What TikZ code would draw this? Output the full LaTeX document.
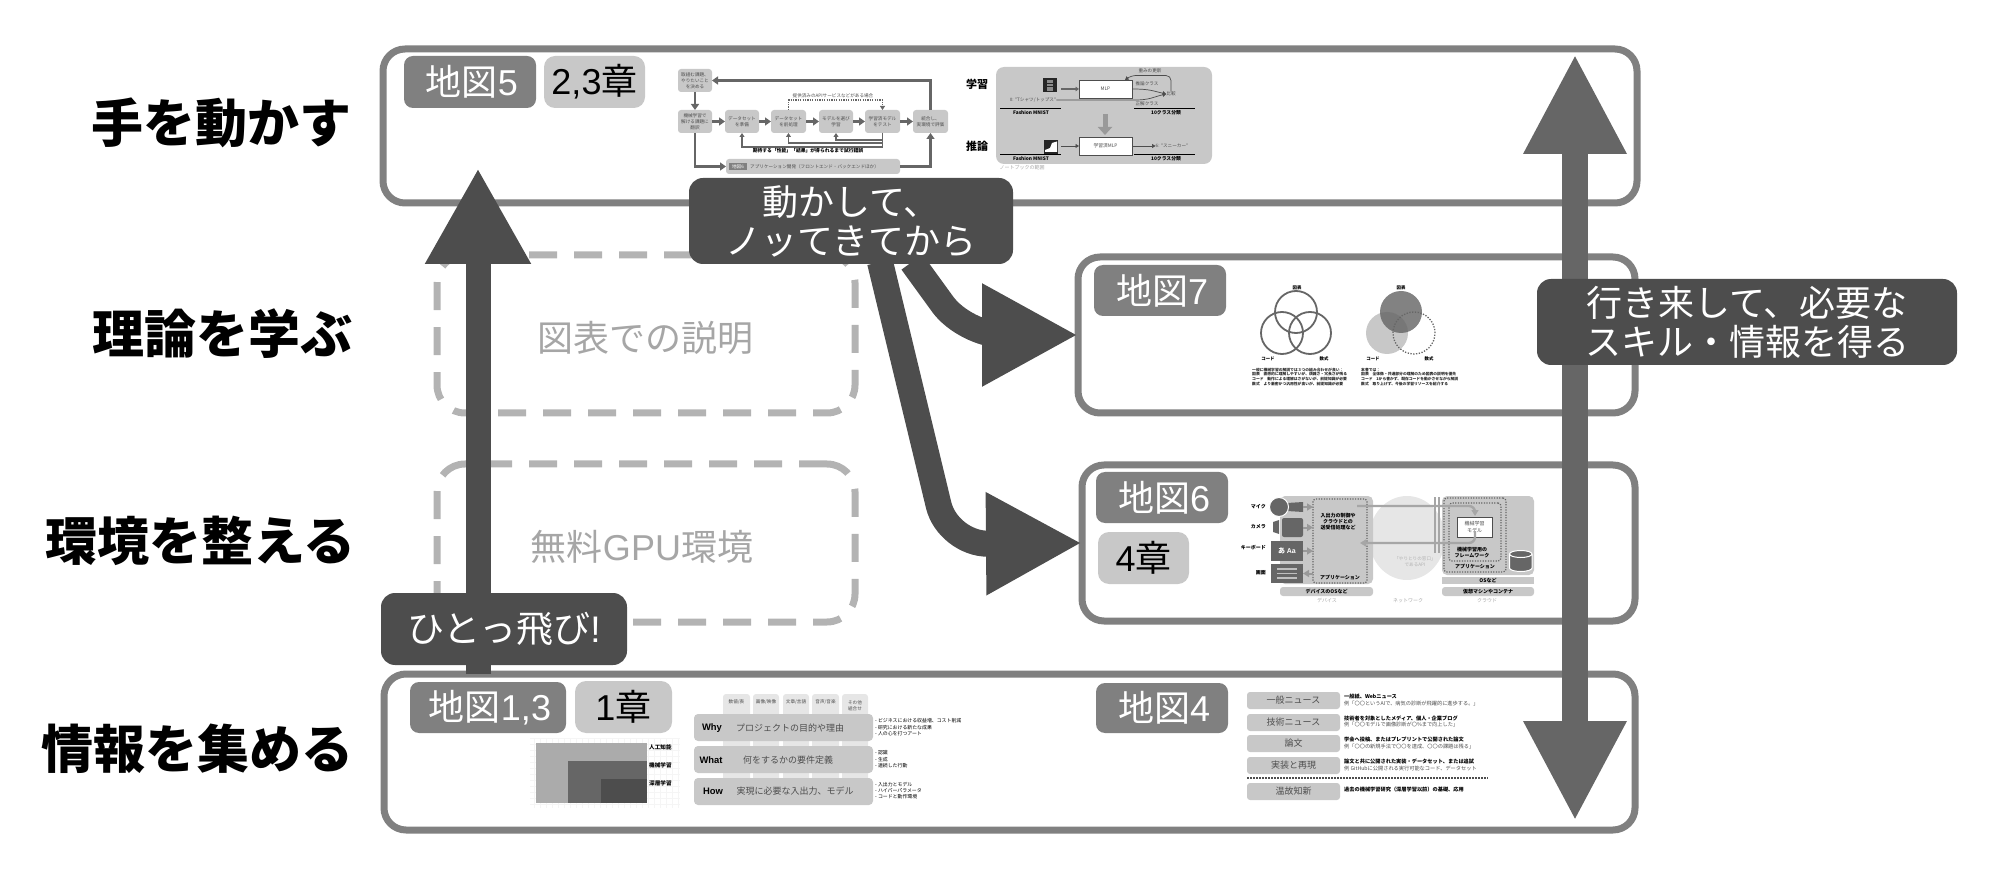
\documentclass[tikz,border=0pt]{standalone}
\usepackage{fontspec}
\setmainfont{Noto Sans CJK JP}
\newfontfamily\hv{Liberation Sans}
\usetikzlibrary{arrows.meta,calc,shapes.geometric}
\definecolor{cdark}{HTML}{4D4D4D}
\definecolor{cmid}{HTML}{808080}
\definecolor{clight}{HTML}{C8C8C8}
\definecolor{cdash}{HTML}{B3B3B3}
\definecolor{cghost}{HTML}{A6A6A6}
\definecolor{carrow}{HTML}{666666}
\definecolor{cpale}{HTML}{E6E6E6}
\newcommand\fs[2]{\fontsize{#1}{#2}\selectfont}
% [style]{name}{x1}{y1}{x2}{y2}{text}
\newcommand\bx[7][]{%
  \pgfmathsetmacro\cxx{(#3+#5)/2}\pgfmathsetmacro\cyy{(#4+#6)/2}%
  \pgfmathsetmacro\wwd{#5-#3}\pgfmathsetmacro\hgt{#6-#4}%
  \node[inner sep=0pt,outer sep=0pt,minimum width=\wwd pt,minimum height=\hgt pt,align=center,#1] (#2) at (\cxx,\cyy) {#7};}
\tikzset{
  lane/.style={draw=cmid,line width=7pt,rounded corners=22pt},
  ghost/.style={draw=cdash,line width=7pt,rounded corners=28pt,dash pattern=on 28pt off 17pt},
  ghosttext/.style={text=cghost,font=\fs{36}{40},inner sep=0pt},
  mapchip/.style={fill=cmid,rounded corners=9pt,text=white,font=\fs{36}{40},execute at begin node=\hspace*{4pt}},
  chapchip/.style={fill=clight,rounded corners=11pt,text=black,font=\fs{36}{40}},
  callout/.style={fill=cdark,rounded corners=14pt,text=white,font=\fs{36}{39}},
  rowlabel/.style={anchor=east,font=\bfseries\fs{52}{56}},
  bigarrow/.style={draw=cdark,line width=26pt,-{Triangle[width=96pt,length=96pt]}},
  flowbox/.style={fill=clight,rounded corners=3pt,font=\fs{4.6}{6},text=cdark},
  flowarrow/.style={draw=carrow,line width=2.4pt,-{Triangle[width=8pt,length=6pt]}},
  thinarrow/.style={draw=carrow,line width=1.1pt,-{Triangle[width=5pt,length=4pt]}},
  tiny/.style={inner sep=0pt,font=\fs{4.6}{6},text=cdark},
  tinyb/.style={inner sep=0pt,font=\bfseries\fs{4.8}{6},text=black},
  lbl/.style={inner sep=0pt,font=\bfseries\fs{5}{6},text=black},
  pale/.style={inner sep=0pt,font=\fs{5}{6},text=black!35},
  dots/.style={draw=carrow,line width=1.2pt,dash pattern=on 1.2pt off 1.4pt,rounded corners=3pt},
  netline/.style={draw=black!35,line width=2.4pt},
  newsbox/.style={fill=clight,rounded corners=3pt,font=\fs{9}{10},text=cdark},
  newsa/.style={anchor=west,inner sep=0pt,font=\bfseries\fs{5.2}{6},text=black},
  newsb/.style={anchor=west,inner sep=0pt,font=\fs{5.2}{6},text=cdark},
  wwrow/.style={fill=clight,rounded corners=4pt},
  wwtab/.style={fill=cpale,rounded corners=3pt},
  wwmain/.style={inner sep=0pt,font=\fs{9}{10},text=cdark},
  wwhead/.style={inner sep=0pt,font=\hv\bfseries\fs{9.4}{10},text=black},
  note/.style={anchor=west,inner sep=0pt,font=\fs{4.9}{6},text=black},
}
\begin{document}
\begin{tikzpicture}[x=1pt,y=-1pt]
\useasboundingbox (0,0) rectangle (1990,874);
% row labels
\node[rowlabel] (r1) at (355,123) {手を動かす};
\node[rowlabel] (r2) at (356,334) {理論を学ぶ};
\node[rowlabel] (r3) at (359,541) {環境を整える};
\node[rowlabel] (r4) at (357,749) {情報を集める};
% lanes
\bx[lane]{laneA}{383}{49}{1637}{203}{}
\bx[lane]{laneB}{1078}{257}{1635}{413}{}
\bx[lane]{laneC}{1082}{465}{1635}{621}{}
\bx[lane]{laneD}{384}{674}{1635}{830}{}
\bx[ghost]{ghostA}{437}{255}{855}{413}{}
\bx[ghost]{ghostB}{437}{464}{855}{622}{}
\node[ghosttext] (ghostAt) at (645,338) {図表での説明};
\node[ghosttext] (ghostBt) at (642,547) {無料{\hv GPU}環境};
% chips
\bx[mapchip]{m5}{404}{56}{536}{108}{地図{\hv 5}}
\bx[chapchip]{c23}{544}{56}{645}{108}{{\hv 2,3}章}
\bx[mapchip]{m7}{1094}{265}{1226}{316}{地図{\hv 7}}
\bx[mapchip]{m6}{1096}{472}{1228}{523}{地図{\hv 6}}
\bx[chapchip]{c4}{1098}{532}{1189}{584}{{\hv 4}章}
\bx[mapchip]{m13}{410}{682}{566}{733}{地図{\hv 1,3}}
\bx[chapchip]{c1}{575}{681}{672}{733}{{\hv 1}章}
\bx[mapchip]{m4}{1096}{683}{1228}{733}{地図{\hv 4}}
% ---------- flow diagram in lane A
\bx[flowbox]{f1}{678}{69}{712}{92}{取組む課題、\\やりたいこと\\を決める}
\bx[flowbox]{f2}{678}{110}{712}{133}{機械学習で\\解ける課題に\\翻訳}
\bx[flowbox]{f3}{725}{110}{759}{133}{データセット\\を準備}
\bx[flowbox]{f4}{771}{110}{806}{133}{データセット\\を前処理}
\bx[flowbox]{f5}{819}{110}{853}{133}{モデルを選び\\学習}
\bx[flowbox]{f6}{865}{110}{900}{133}{学習済モデル\\をテスト}
\bx[flowbox]{f7}{913}{110}{948}{133}{統合し、\\実環境で評価}
\bx[fill=clight,rounded corners=3pt]{app}{726}{159}{900}{174}{}
\bx[fill=cmid,font=\fs{4.6}{6},text=white]{apptag}{729}{163}{747}{170}{地図6}
\node[tiny,anchor=west] (apptext) at (750,166.5) {アプリケーション開発（フロントエンド・バックエンドほか）};
\draw[flowarrow] (f1.south) -- (f2.north);
\draw[flowarrow] (f2.east) -- (f3.west);
\draw[flowarrow] (f3.east) -- (f4.west);
\draw[flowarrow] (f4.east) -- (f5.west);
\draw[flowarrow] (f5.east) -- (f6.west);
\draw[flowarrow] (f6.east) -- (f7.west);
\draw[flowarrow] (f7.north) |- (f1.east);
\draw[flowarrow] (f2.south) |- (app.west);
\draw[flowarrow] (app.east) -| (f7.south);
\draw[thinarrow,dash pattern=on 1.2pt off 1.2pt] (f4.north) -- ++(0,-10) -| (f6.north);
\draw[thinarrow] (f6.south) -- ++(0,14) -| (f3.south);
\draw[thinarrow] (f6.south) -- ++(0,10) -| (f4.south);
\draw[thinarrow] (f6.south) -- ++(0,7) -| (f5.south);
\node[tiny] (apinote) at (833,96) {提供済みのAPIサービスなどがある場合};
\node[tinyb] (trial) at (808,151) {期待する「性能」「結果」が得られるまで試行錯誤};
% ---------- training diagram in lane A
\node[inner sep=0pt,font=\bfseries\fs{11}{12}] (lgA) at (977,84) {学習};
\node[inner sep=0pt,font=\bfseries\fs{11}{12}] (lgB) at (977,146) {推論};
\bx[fill=clight,rounded corners=8pt]{panel}{996}{67}{1212}{164}{}
\bx[fill=black!85]{iconA}{1043}{78}{1057}{92}{}
\fill[black!45] (1047,80) rectangle (1053,91);
\draw[black!85,line width=.6pt] (1047,83) -- (1053,83) (1047,86) -- (1053,86);
\bx[fill=black!85]{iconB}{1044}{140}{1058}{154}{}
\fill[white] (1045,150) -- (1050,148) -- (1052,143) -- (1057,141.5) -- (1057,152) -- (1045,152) -- cycle;
\bx[fill=white,draw=cdark,line width=.7pt,font=\fs{4.8}{6},text=cdark]{mlp}{1079}{80}{1132}{98}{MLP}
\bx[fill=white,draw=cdark,line width=.7pt,font=\fs{4.8}{6},text=cdark]{tmlp}{1079}{137}{1132}{155}{学習済MLP}
\node[tiny] (truth) at (1033,100) {0: "Tシャツ/トップス"};
\node[tiny] (cmp) at (1171,94) {比較};
\node[tiny] (lw) at (1150,71) {重みの更新};
\node[tiny] (lp) at (1147,84) {推論クラス};
\node[tiny] (lt) at (1147,104) {正解クラス};
\node[tiny] (sn) at (1172,146) {6: "スニーカー"};
\node[tinyb] (fa) at (1031,113) {Fashion MNIST};
\node[tinyb] (fb) at (1031,159) {Fashion MNIST};
\node[tinyb] (ca) at (1166,113) {10クラス分類};
\node[tinyb] (cb) at (1166,159) {10クラス分類};
\node[pale] (nb) at (1022,168) {ノートブックの範囲};
\draw[black,line width=.9pt] (1000,108) -- (1061,108) (1134,108) -- (1195,108) (1000,154) -- (1061,154) (1134,154) -- (1195,154);
\draw[draw=cdark,line width=.7pt,-{Triangle[width=4pt,length=3.5pt]}] (mlp.east) .. controls (1150,89) and (1153,91) .. (cmp.west);
\draw[draw=cdark,line width=.7pt,-{Triangle[width=4pt,length=3.5pt]}] (truth.east) -- (1135,100) .. controls (1150,100) and (1153,97) .. (cmp.west);
\draw[draw=cdark,line width=.7pt,rounded corners=5pt,-{Triangle[width=4pt,length=3.5pt]}] (cmp.north) |- (1131,75.5) -- (1125,80);
\draw[draw=carrow,line width=1.3pt,-{Triangle[width=4.5pt,length=3.5pt]}] (iconA.east) ++(4,4) -- (mlp.west);
\draw[draw=cdark,line width=.7pt,-{Triangle[width=4pt,length=3.5pt]}] (iconB.east) ++(3,-1) -- (tmlp.west);
\draw[draw=cdark,line width=.7pt,-{Triangle[width=4pt,length=3.5pt]}] (tmlp.east) -- (sn.west);
\draw[draw=black!40,line width=5pt,-{Triangle[width=14pt,length=8pt]}] (1105,114) -- (1105,135);
% ---------- Venn diagrams in lane B
\node[circle,draw=carrow,line width=1.8pt,minimum size=42pt,inner sep=0pt] (vt) at (1296,312) {};
\node[circle,draw=carrow,line width=1.8pt,minimum size=42pt,inner sep=0pt] (vl) at (1282,333) {};
\node[circle,draw=carrow,line width=1.8pt,minimum size=42pt,inner sep=0pt] (vr) at (1310,333) {};
\node[circle,fill=clight,minimum size=42pt,inner sep=0pt] (wl) at (1387,333) {};
\node[circle,fill=carrow,fill opacity=.82,minimum size=42pt,inner sep=0pt] (wt) at (1401,312) {};
\node[circle,draw=carrow,line width=1.3pt,dash pattern=on 1.3pt off 1.5pt,minimum size=42pt,inner sep=0pt] (wr) at (1414,333) {};
\node[lbl,font=\bfseries\fs{4.4}{6}] (va) at (1297,288) {図表};
\node[lbl,font=\bfseries\fs{4.4}{6}] (vb) at (1268,359) {コード};
\node[lbl,font=\bfseries\fs{4.4}{6}] (vc) at (1324,359) {数式};
\node[lbl,font=\bfseries\fs{4.4}{6}] (wa) at (1401,288) {図表};
\node[lbl,font=\bfseries\fs{4.4}{6}] (wb) at (1373,359) {コード};
\node[lbl,font=\bfseries\fs{4.4}{6}] (wc) at (1429,359) {数式};
\tikzset{vtxt/.style={anchor=west,inner sep=0pt,font=\bfseries\fs{3.8}{5},text=black!85}}
\node[vtxt] (t1) at (1252,370) {一般に機械学習の解説では３つの組み合わせが良い：};
\node[vtxt] (t2) at (1252,374.5) {図表　直感的に理解しやすいが、煩雑さ・冗長さが残る};
\node[vtxt] (t3) at (1252,379) {コード　動作による理解はさがないが、前提知識が必要};
\node[vtxt] (t4) at (1252,384) {数式　より厳密かつ汎用性が高いが、前提知識が必要};
\node[vtxt] (u1) at (1361,370) {本書では：};
\node[vtxt] (u2) at (1361,374.5) {図表　全体像・共通部分の理解のため図表の説明を優先};
\node[vtxt] (u3) at (1361,379) {コード　1から書かず、既存コードを動かさせながら解説};
\node[vtxt] (u4) at (1361,384) {数式　取り上げず、今後の学習リソースを紹介する};
% ---------- application diagram in lane C
\node[ellipse,fill=cpale,minimum width=76pt,minimum height=84pt,inner sep=0pt] (netw) at (1407,538) {};
\bx[fill=clight,rounded corners=5pt]{dev}{1280}{496}{1373}{584}{}
\bx[fill=clight,rounded corners=3pt,font=\bfseries\fs{5}{6}]{devos}{1280}{587}{1373}{596}{デバイスのOSなど}
\bx[fill=clight,rounded corners=5pt]{cld}{1442}{496}{1534}{575}{}
\bx[fill=clight,font=\bfseries\fs{5}{6}]{cldos}{1442}{577}{1534}{584}{OSなど}
\bx[fill=clight,rounded corners=3pt,font=\bfseries\fs{5}{6}]{cldvm}{1442}{587}{1534}{596}{仮想マシンやコンテナ}
\node[pale] (pdev) at (1327,601) {デバイス};
\node[pale] (pnet) at (1408,601) {ネットワーク};
\node[pale] (pcld) at (1487,601) {クラウド};
\node[pale,align=center,font=\fs{4.6}{6},text=black!30] (papi) at (1415,562) {「やりとりの窓口」\\であるAPI};
\bx[dots]{appd}{1313}{499}{1367}{583}{}
\bx[dots]{appc}{1444}{498}{1506}{572}{}
\bx[dots]{fwk}{1449}{503}{1501}{561}{}
\bx[fill=white,draw=cdark,line width=.9pt,font=\fs{5}{6.5},text=cdark]{model}{1457}{517}{1492}{537}{機械学習\\モデル}
\node[lbl,align=center] (ioc) at (1338,522) {入出力の制御や\\クラウドとの\\送受信処理など};
\node[lbl] (appl) at (1340,578) {アプリケーション};
\node[lbl,align=center] (fwkl) at (1472,553) {機械学習用の\\フレームワーク};
\node[lbl] (appl2) at (1475,567) {アプリケーション};
\node[lbl,anchor=east] (lmic) at (1266,507) {マイク};
\node[lbl,anchor=east] (lcam) at (1266,527) {カメラ};
\node[lbl,anchor=east] (lkey) at (1266,548) {キーボード};
\node[lbl,anchor=east] (lscr) at (1266,573) {画面};
\fill[carrow] (1287,503) -- (1303,502) -- (1303,512) -- (1287,511) -- cycle;
\node[circle,fill=carrow,draw=white,line width=1pt,minimum size=19pt,inner sep=0pt] (mic) at (1279,507) {};
\fill[carrow] (1273,522) -- (1279,520) -- (1279,534) -- (1273,532) -- cycle;
\bx[fill=carrow,rounded corners=2pt]{cam}{1282}{518}{1303}{537}{}
\bx[fill=carrow,text=white,font=\bfseries\fs{7}{8}]{kbd}{1271}{541}{1303}{561}{あ {\hv Aa}}
\bx[fill=carrow]{scr}{1271}{564}{1303}{583}{}
\draw[draw=black!25,line width=1.2pt] (1277,569) -- (1297,569) (1277,573.5) -- (1297,573.5) (1277,578) -- (1297,578);
\tikzset{ioarrow/.style={draw=black!40,line width=2pt,-{Triangle[width=7pt,length=6pt]}}}
\draw[ioarrow] (1303,507) -- (appd.west |- mic);
\draw[ioarrow] (cam.east) -- (appd.west |- cam);
\draw[ioarrow] (kbd.east) -- (appd.west |- kbd);
\draw[ioarrow] (appd.west |- scr) -- (scr.east);
\draw[netline] (1435,497) -- (1435,553) (1439,497) -- (1439,553);
\draw[netline,rounded corners=6pt,-{Triangle[width=7pt,length=6pt]}] (1357,506) -- (1475,506) -- (1475,516);
\draw[netline,rounded corners=6pt,-{Triangle[width=7pt,length=6pt]}] (1475,531) -- (1475,543) -- (1360,543);
\draw[fill=carrow,draw=white,line width=1pt] (1509.5,554) -- (1509.5,568) arc[start angle=180,end angle=360,x radius=11.25pt,y radius=3.5pt] -- (1532,554) arc[start angle=0,end angle=180,x radius=11.25pt,y radius=3.5pt] -- cycle;
\draw[draw=white,line width=1pt] (1509.5,554) arc[start angle=180,end angle=360,x radius=11.25pt,y radius=3.5pt];
% ---------- lane D left
\draw[draw=black!4,line width=.4pt,step=6pt] (530,738) grid (680,808);
\bx[fill=black!33]{sAI}{536}{743}{647}{803}{}
\bx[fill=carrow]{sML}{568}{761}{647}{803}{}
\bx[fill=cdark]{sDL}{601}{779}{647}{803}{}
\node[lbl,anchor=west,font=\bfseries\fs{5.6}{6}] (lAI) at (649,747) {人工知能};
\node[lbl,anchor=west,font=\bfseries\fs{5.6}{6}] (lML) at (649,765) {機械学習};
\node[lbl,anchor=west,font=\bfseries\fs{5.6}{6}] (lDL) at (649,783) {深層学習};
\bx[wwtab]{tb1}{723}{694}{750}{781}{}
\bx[wwtab]{tb2}{753}{694}{779}{781}{}
\bx[wwtab]{tb3}{783}{694}{809}{781}{}
\bx[wwtab]{tb4}{812}{694}{839}{781}{}
\bx[wwtab]{tb5}{842}{694}{868}{781}{}
\node[tiny] (h1) at (736.5,702) {数値/表};
\node[tiny] (h2) at (766,702) {画像/映像};
\node[tiny] (h3) at (796,702) {文章/言語};
\node[tiny] (h4) at (825.5,702) {音声/音楽};
\node[tiny,align=center] (h5) at (855,706) {その他\\組合せ};
\bx[wwrow]{why}{694}{714}{873}{741}{}
\bx[wwrow]{what}{694}{746}{873}{773}{}
\bx[wwrow]{how}{694}{778}{873}{805}{}
\node[wwhead] (wh1) at (712,728) {Why};
\node[wwhead] (wh2) at (711,760) {What};
\node[wwhead] (wh3) at (713,791) {How};
\node[wwmain] (wm1) at (790,728) {プロジェクトの目的や理由};
\node[wwmain] (wm2) at (788,760) {何をするかの要件定義};
\node[wwmain] (wm3) at (795,791) {実現に必要な入出力、モデル};
\node[note] (n1) at (875,721) {- ビジネスにおける収益増、コスト削減};
\node[note] (n2) at (875,727.5) {- 研究における新たな成果};
\node[note] (n3) at (875,734) {- 人の心を打つアート};
\node[note] (n4) at (875,753) {- 認識};
\node[note] (n5) at (875,759.5) {- 生成};
\node[note] (n6) at (875,766) {- 連続した行動};
\node[note] (n7) at (875,785) {- 入出力とモデル};
\node[note] (n8) at (875,791) {- ハイパーパラメータ};
\node[note] (n9) at (875,797) {- コードと動作環境};
% ---------- lane D right
\bx[newsbox]{nw1}{1247}{692}{1340}{709}{一般ニュース}
\bx[newsbox]{nw2}{1247}{714}{1340}{731}{技術ニュース}
\bx[newsbox]{nw3}{1247}{735}{1340}{752}{論文}
\bx[newsbox]{nw4}{1247}{757}{1340}{774}{実装と再現}
\bx[newsbox]{nw5}{1247}{783}{1340}{800}{温故知新}
\node[newsa] (a1) at (1344,697) {一般紙、Webニュース};
\node[newsb] (b1) at (1344,703.5) {例「〇〇というAIで、病気の診断が飛躍的に進歩する。」};
\node[newsa] (a2) at (1344,718.5) {技術者を対象としたメディア、個人・企業ブログ};
\node[newsb] (b2) at (1344,725) {例「〇〇モデルで画像診断が〇\%まで向上した」};
\node[newsa] (a3) at (1344,740) {学会へ投稿、またはプレプリントで公開された論文};
\node[newsb] (b3) at (1344,746.5) {例「〇〇の新規手法で〇〇を達成、〇〇の課題は残る」};
\node[newsa] (a4) at (1344,761.5) {論文と共に公開された実装・データセット、または追試};
\node[newsb] (b4) at (1344,768.5) {例 GitHubに公開される実行可能なコード、データセット};
\node[newsa] (a5) at (1344,790) {過去の機械学習研究（深層学習以前）の基礎、応用};
\draw[draw=cdark,line width=1.5pt,dash pattern=on 1.5pt off 1.5pt] (1247,778) -- (1488,778);
% ---------- big arrows
\coordinate (upT) at (478,168);
\draw[bigarrow,line width=25pt,-{Triangle[width=99pt,length=96pt]}] (laneD.north -| upT) -- (upT);
\bx[callout]{cJump}{381}{593}{627}{665}{\fs{37}{40}ひとっ飛び{\hv !}}
\draw[draw=carrow,line width=26pt,{Triangle[width=96pt,length=100pt]}-{Triangle[width=96pt,length=100pt]}] (1575,54) -- (1575,821);
\bx[callout]{cBack}{1537}{279}{1957}{365}{行き来して、必要な\\スキル・情報を得る}
\coordinate (goA) at (912,262);
\coordinate (goB) at (880,262);
\draw[bigarrow,rounded corners=38pt] (goA) -- (965,335) -- (laneB.west);
\draw[bigarrow,rounded corners=40pt] (goB) -- (948,544) -- (laneC.west);
\bx[callout]{cGo}{689}{178}{1013}{264}{動かして、\\ノッてきてから}
\end{tikzpicture}
\end{document}
